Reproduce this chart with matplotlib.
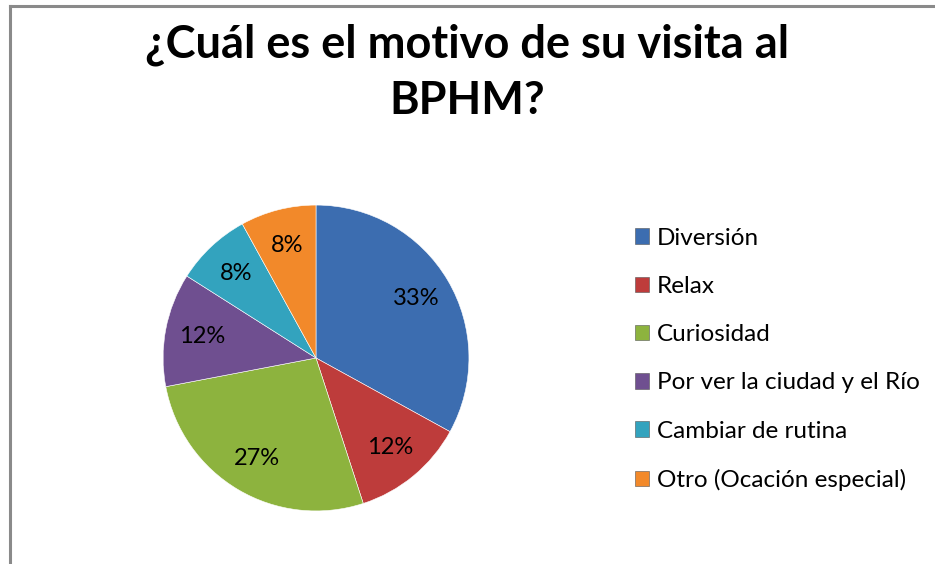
import matplotlib
matplotlib.use("Agg")
import matplotlib.pyplot as plt
from matplotlib.patches import Patch
from matplotlib.lines import Line2D

categories = ["Diversión", "Relax", "Curiosidad", "Por ver la ciudad y el Río",
              "Cambiar de rutina", "Otro (Ocación especial)"]
values = [33, 12, 27, 12, 8, 8]
colors = ["#3C6DB0", "#BE3C3B", "#8DB33E", "#6F4F90", "#33A3BE", "#F2892A"]
title = "¿Cuál es el motivo de su visita al\nBPHM?"

W, H = 935, 564
fig = plt.figure(figsize=(W / 100, H / 100), dpi=100)
fig.patch.set_facecolor("white")
plt.rcParams['font.family'] = ['Lato', 'DejaVu Sans']

# frame lines (top and left)
fig.add_artist(Line2D([10 / W, 1.0], [1 - 6 / H, 1 - 6 / H], color="#8A8A8A", lw=2.2,
                      transform=fig.transFigure))
fig.add_artist(Line2D([10 / W, 10 / W], [0, 1 - 6 / H], color="#8A8A8A", lw=2.2,
                      transform=fig.transFigure))

cx, cy, r = 316, 358, 156
ax = fig.add_axes([(cx - r) / W, (H - cy - r) / H, 2 * r / W, 2 * r / H])
wedges, texts, autotexts = ax.pie(
    values, colors=colors, startangle=90, counterclock=False, radius=1.0,
    autopct="%d%%", pctdistance=0.76,
    wedgeprops=dict(edgecolor="#FFFFFF", linewidth=0.4),
    textprops=dict(fontsize=17, color="black"))
ax.set_xlim(-1.02, 1.02)
ax.set_ylim(-1.02, 1.02)
ax.set_aspect("equal")
ax.axis("off")

lines = title.split("\n")
fig.text(0.5, 1 - 57 / H, lines[0], ha="center", va="baseline",
         fontsize=32.5, fontweight="bold")
fig.text(0.5, 1 - 114 / H, lines[1], ha="center", va="baseline",
         fontsize=32.5, fontweight="bold")

handles = [Patch(facecolor=c, edgecolor="#555555", linewidth=0.4) for c in colors]
fig.legend(handles, categories, loc="upper left",
           bbox_to_anchor=(625 / W, 1 - 218 / H), frameon=False,
           fontsize=17.5, handlelength=0.6, handleheight=0.6,
           handletextpad=0.3, labelspacing=1.12, borderaxespad=0)

fig.savefig("out.png", dpi=100, facecolor="white")
